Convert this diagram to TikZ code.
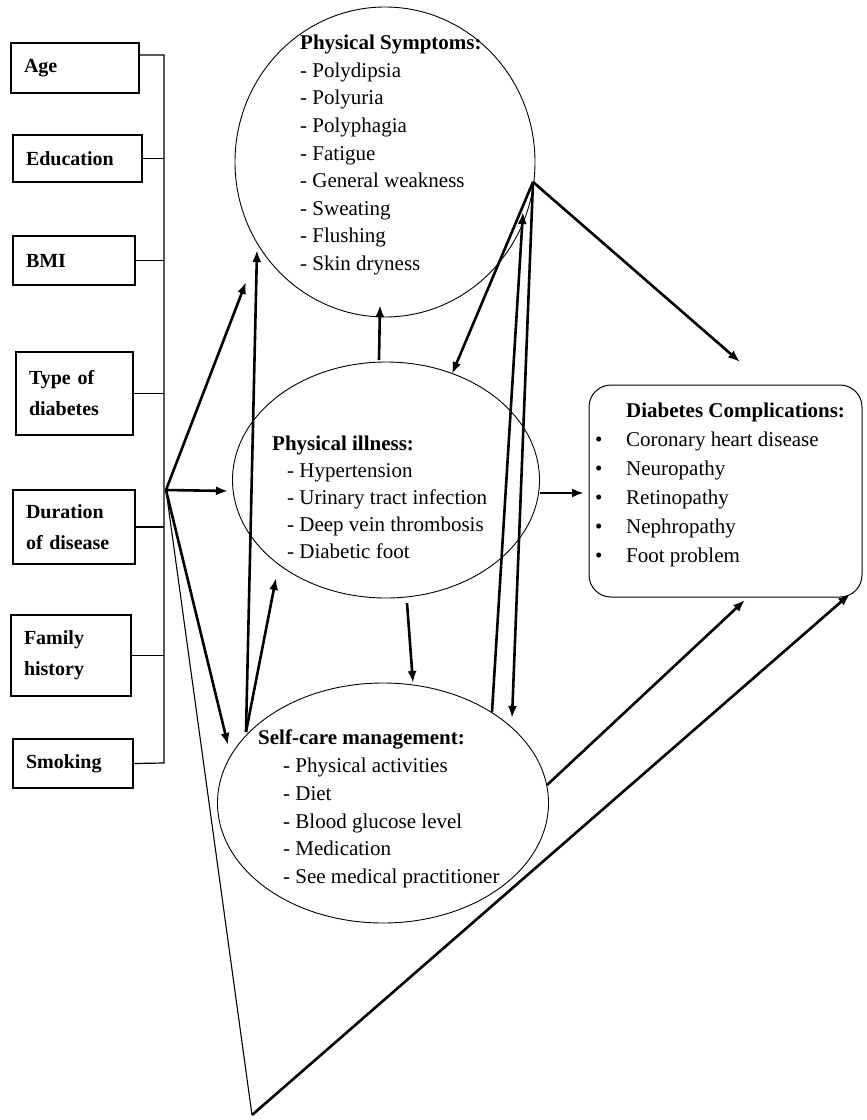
\documentclass[tikz,border=0pt]{standalone}
\usepackage{fontspec}
\setmainfont{Liberation Serif}
\usetikzlibrary{shapes.geometric,arrows.meta}
\begin{document}
\begin{tikzpicture}[x=1pt,y=-1pt,
  leftbox/.style={draw,line width=1.2pt,inner xsep=13pt,inner ysep=0pt,align=left,font=\bfseries\fontsize{20}{31}\selectfont},
  oval/.style={draw,ellipse,line width=0.9pt,inner sep=0pt},
  txt/.style={anchor=north west,inner sep=0pt,align=left},
  barln/.style={line width=1.2pt},
  arr/.style={line width=2.6pt,-{Latex[length=12pt,width=9pt]}},
  thinln/.style={line width=1.1pt},
]
\useasboundingbox (0,0) rectangle (867,1120);

% left boxes
\node[leftbox,text width=102pt,minimum height=50pt] (age) at (75,68) {Age};
\node[leftbox,text width=103pt,minimum height=47pt] (edu) at (77.5,158.5) {Education};
\node[leftbox,text width=96pt,minimum height=49pt] (bmi) at (74,260.5) {BMI};
\node[leftbox,text width=91pt,minimum height=83pt] (typ) at (74.5,393.5) {Type of\\diabetes};
\node[leftbox,text width=96pt,minimum height=74pt] (dur) at (74,527) {Duration\\of disease};
\node[leftbox,text width=94pt,minimum height=81pt] (fam) at (71,655.5) {Family\\history};
\node[leftbox,text width=94pt,minimum height=49pt] (smk) at (73,763.5) {Smoking};

% bracket
\coordinate (bar) at (164,763);
\draw[barln] ([yshift=13pt]age.east) -| (bar) -- (smk.east);
\foreach \n in {edu,bmi,typ,dur,fam}
  \draw[barln] (\n.east) -- (\n.east -| bar);

% ellipses and box
\node[oval,minimum width=300pt,minimum height=310pt] (sym) at (385,162) {};
\node[oval,minimum width=307pt,minimum height=236pt] (ill) at (386,480) {};
\node[oval,minimum width=331pt,minimum height=240pt] (self) at (383,803) {};
\node[draw,rounded corners=22pt,line width=1pt,minimum width=273pt,minimum height=212pt,inner sep=0pt] (comp) at (725.5,491) {};

% texts
\node[txt,font=\fontsize{21}{27.6}\selectfont] (symtxt) at (300,35)
 {\textbf{Physical Symptoms:}\\- Polydipsia\\- Polyuria\\- Polyphagia\\- Fatigue\\- General weakness\\- Sweating\\- Flushing\\- Skin dryness};
\node[txt,font=\fontsize{21}{27}\selectfont] (illtxt) at (272,436)
 {\textbf{Physical illness:}\\\hspace*{15pt}- Hypertension\\\hspace*{15pt}- Urinary tract infection\\\hspace*{15pt}- Deep vein thrombosis\\\hspace*{15pt}- Diabetic foot};
\node[txt,font=\fontsize{21}{27.7}\selectfont] (selftxt) at (258,730)
 {\textbf{Self-care management:}\\\hspace*{25pt}- Physical activities\\\hspace*{25pt}- Diet\\\hspace*{25pt}- Blood glucose level\\\hspace*{25pt}- Medication\\\hspace*{25pt}- See medical practitioner};
\node[txt,font=\fontsize{21}{29}\selectfont] (comptxt) at (595,403)
 {\hspace*{31pt}\textbf{Diabetes Complications:}\\\makebox[31pt][l]{\textbullet}Coronary heart disease\\\makebox[31pt][l]{\textbullet}Neuropathy\\\makebox[31pt][l]{\textbullet}Retinopathy\\\makebox[31pt][l]{\textbullet}Nephropathy\\\makebox[31pt][l]{\textbullet}Foot problem};

% connector end points
\coordinate (hub) at (166,490);
\coordinate (tri) at (252,1115);
\coordinate (symSW) at (246,282);
\coordinate (illW) at (228,491);
\coordinate (selfNW) at (228,745);
\coordinate (compSE) at (850,594);
\coordinate (selfA) at (246,732);
\coordinate (symB) at (257,250);
\coordinate (illSW) at (276,578);
\coordinate (illN) at (379,360);
\coordinate (symS) at (380,305);
\coordinate (illS) at (407,603);
\coordinate (selfN) at (413,683);
\coordinate (illE) at (540,493);
\coordinate (compW) at (584,493);
\coordinate (symE) at (533,182);
\coordinate (compN) at (740,362);
\coordinate (illNE) at (452,374);
\coordinate (selfNE) at (512,718);
\coordinate (selfNE2) at (492,712);
\coordinate (symE2) at (523,212);
\coordinate (selfE) at (547,785);
\coordinate (compS) at (745,600);

% connectors
\draw[arr] (hub) -- (symSW);
\draw[arr] (hub) -- (illW);
\draw[arr] (hub) -- (selfNW);
\draw[thinln] (hub) -- (tri);
\draw[arr] (tri) -- (compSE);
\draw[arr] (selfA) -- (symB);
\draw[arr] (selfA) -- (illSW);
\draw[arr] (illN) -- (symS);
\draw[arr] (illS) -- (selfN);
\draw[arr] (illE) -- (compW);
\draw[arr] (symE) -- (compN);
\draw[arr] (symE) -- (illNE);
\draw[arr] (symE) -- (selfNE);
\draw[arr] (selfNE2) -- (symE2);
\draw[arr] (selfE) -- (compS);
\end{tikzpicture}
\end{document}
